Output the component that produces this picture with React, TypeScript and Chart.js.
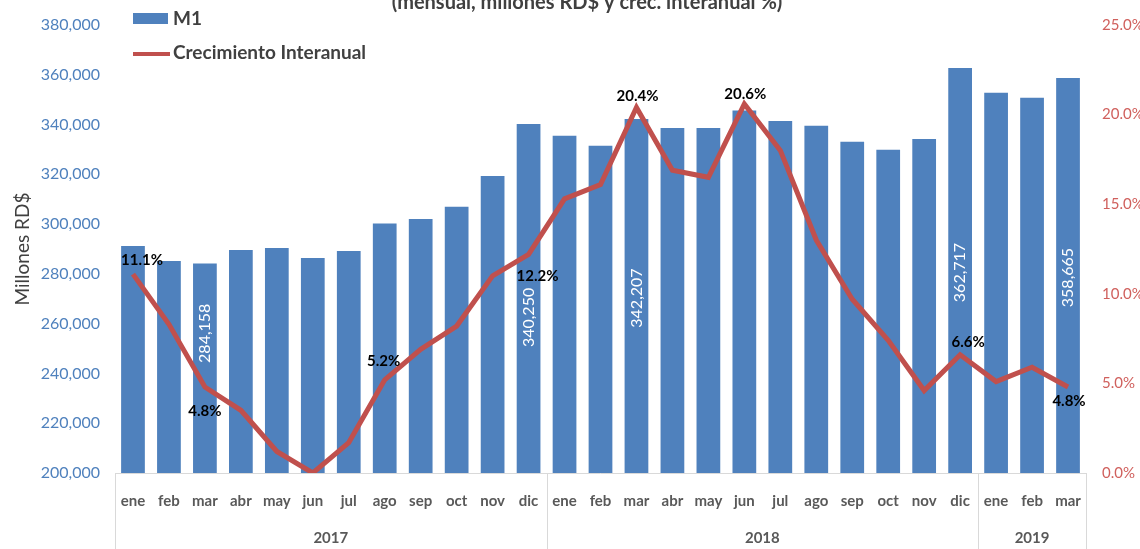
import React, { useEffect, useRef } from "react";
import { Chart, registerables } from "chart.js";

Chart.register(...registerables);

const months = [
  "ene", "feb", "mar", "abr", "may", "jun", "jul", "ago", "sep", "oct", "nov", "dic",
  "ene", "feb", "mar", "abr", "may", "jun", "jul", "ago", "sep", "oct", "nov", "dic",
  "ene", "feb", "mar",
];
const years = ["2017", "2018", "2019"];
const yearCounts = [12, 12, 3];

const m1Values = [
  291200, 285200, 284158, 289600, 290400, 286400, 289200, 300200, 302100, 307000, 319300, 340250,
  335500, 331500, 342207, 338600, 338600, 345600, 341400, 339500, 333100, 329900, 334200, 362717,
  352800, 350800, 358665,
];
const growthValues = [
  11.1, 8.3, 4.8, 3.5, 1.2, 0.0, 1.7, 5.2, 6.9, 8.2, 11.0, 12.2,
  15.3, 16.1, 20.4, 16.9, 16.5, 20.6, 18.0, 13.0, 9.7, 7.4, 4.6, 6.6,
  5.1, 5.9, 4.8,
];

const barLabelIdx = [2, 11, 14, 23, 26];
const pctLabelIdx = [0, 2, 7, 11, 14, 17, 23, 26];

const titleText = "(mensual, millones RD$ y crec. interanual %)";
const FONT = "Lato, 'Open Sans', sans-serif";

// label placement (style only)
const pctLabelOffsets: Record<number, [number, number]> = {
  0: [9, -14], 2: [0, 24], 7: [-1, -19], 11: [9, 22], 14: [1, -11], 17: [1, -10], 23: [8, -13], 26: [1, 14],
};
const barLabelShift: Record<number, number> = { 2: -35, 11: 19, 14: 2, 23: 2, 26: 2 };

const overlayPlugin = {
  id: "overlay",
  afterDatasetsDraw(chart: any) {
    const ctx = chart.ctx;
    const x = chart.scales.x;
    const area = chart.chartArea;
    ctx.save();
    // axis line & separators
    ctx.strokeStyle = "#d9d9d9";
    ctx.lineWidth = 1;
    ctx.beginPath();
    ctx.moveTo(area.left, area.bottom + 0.5);
    ctx.lineTo(area.right, area.bottom + 0.5);
    ctx.stroke();
    let start = 0;
    const half = (x.getPixelForValue(1) - x.getPixelForValue(0)) / 2;
    const bounds: number[] = [start];
    yearCounts.forEach((c) => { start += c; bounds.push(start); });
    bounds.forEach((b) => {
      const px = Math.round(b === 0 ? area.left : b === months.length ? area.right : x.getPixelForValue(b) - half) + 0.5;
      ctx.beginPath();
      ctx.moveTo(px, area.bottom);
      ctx.lineTo(px, chart.height);
      ctx.stroke();
    });
    // year labels
    ctx.fillStyle = "#595959";
    ctx.font = `bold 15px ${FONT}`;
    ctx.textAlign = "center";
    ctx.textBaseline = "middle";
    for (let i = 0; i < years.length; i++) {
      const l = i === 0 ? area.left : x.getPixelForValue(bounds[i]) - half;
      const r = bounds[i + 1] === months.length ? area.right : x.getPixelForValue(bounds[i + 1]) - half;
      ctx.fillText(years[i], (l + r) / 2, 538);
    }

    // bar value labels
    const barMeta = chart.getDatasetMeta(0);
    ctx.font = `16px ${FONT}`;
    ctx.fillStyle = "#ffffff";
    barLabelIdx.forEach((i) => {
      const el = barMeta.data[i];
      const cy = (el.y + area.bottom) / 2 + (barLabelShift[i] || 0);
      ctx.save();
      ctx.translate(el.x, cy);
      ctx.rotate(-Math.PI / 2);
      ctx.fillText(m1Values[i].toLocaleString("en-US"), 0, 0);
      ctx.restore();
    });

    // pct labels
    const lineMeta = chart.getDatasetMeta(1);
    ctx.font = `bold 15px ${FONT}`;
    ctx.fillStyle = "#000000";
    pctLabelIdx.forEach((i) => {
      const el = lineMeta.data[i];
      const [dx, dy] = pctLabelOffsets[i] || [0, -12];
      ctx.fillText(growthValues[i].toFixed(1) + "%", el.x + dx, el.y + dy);
    });

    // legend
    ctx.fillStyle = "#4f81bd";
    ctx.fillRect(133, 13, 35, 11);
    ctx.fillStyle = "#404040";
    ctx.textAlign = "left";
    ctx.font = `bold 19px ${FONT}`;
    ctx.fillText("M1", 173, 19);
    ctx.strokeStyle = "#c0504d";
    ctx.lineWidth = 4;
    ctx.beginPath();
    ctx.moveTo(133, 54);
    ctx.lineTo(170, 54);
    ctx.stroke();
    ctx.font = `bold 19px ${FONT}`;
    ctx.fillText("Crecimiento Interanual", 173, 53);

    // clipped title
    ctx.textAlign = "center";
    ctx.textBaseline = "alphabetic";
    ctx.font = `bold 20px ${FONT}`;
    ctx.fillText(titleText, 587, 9);
    ctx.restore();
  },
};

export default function App() {
  const ref = useRef<HTMLCanvasElement>(null);
  useEffect(() => {
    document.body.style.margin = "0";
    const chart = new Chart(ref.current!, {
      type: "bar",
      data: {
        labels: months,
        datasets: [
          {
            type: "bar",
            label: "M1",
            data: m1Values,
            backgroundColor: "#4f81bd",
            borderWidth: 0,
            barPercentage: 0.66,
            categoryPercentage: 1,
            yAxisID: "y",
            order: 2,
          },
          {
            type: "line",
            label: "Crecimiento Interanual",
            data: growthValues,
            borderColor: "#c0504d",
            borderWidth: 5,
            pointRadius: 0,
            tension: 0,
            yAxisID: "y1",
            order: 1,
          } as any,
        ],
      },
      options: {
        responsive: false,
        animation: false,
        layout: { padding: { top: 20, left: 0, right: 0, bottom: 0 } },
        plugins: { legend: { display: false }, tooltip: { enabled: false }, title: { display: false } },
        scales: {
          x: {
            grid: { display: false, drawTicks: false },
            border: { display: false },
            ticks: {
              color: "#595959",
              font: { family: FONT, size: 15, weight: "bold" },
              padding: 19,
              maxRotation: 0,
              autoSkip: false,
            },
            afterFit: (s: any) => { s.height = 76; },
          },
          y: {
            position: "left",
            min: 200000,
            max: 380000,
            grid: { display: false, drawTicks: false },
            border: { display: false },
            ticks: {
              stepSize: 20000,
              color: "#4f81bd",
              font: { family: FONT, size: 16 },
              padding: 15,
              callback: (v: any) => Number(v).toLocaleString("en-US"),
            },
            title: {
              display: true,
              text: "Millones RD$",
              color: "#404040",
              font: { family: FONT, size: 19 },
              padding: { top: 11, bottom: 0 },
            },
            afterFit: (s: any) => { s.width = 115; },
          },
          y1: {
            position: "right",
            min: 0,
            max: 25,
            grid: { display: false, drawTicks: false },
            border: { display: false },
            ticks: {
              stepSize: 5,
              color: "#d0605d",
              font: { family: FONT, size: 15 },
              padding: 16,
              callback: (v: any) => Number(v).toFixed(1) + "%",
            },
            afterFit: (s: any) => { s.width = 54; },
          },
        },
      },
      plugins: [overlayPlugin],
    } as any);
    return () => chart.destroy();
  }, []);
  return (
    <div style={{ width: 1140, height: 549 }}>
      <canvas ref={ref} width={1140} height={549} style={{ display: "block" }} />
    </div>
  );
}
